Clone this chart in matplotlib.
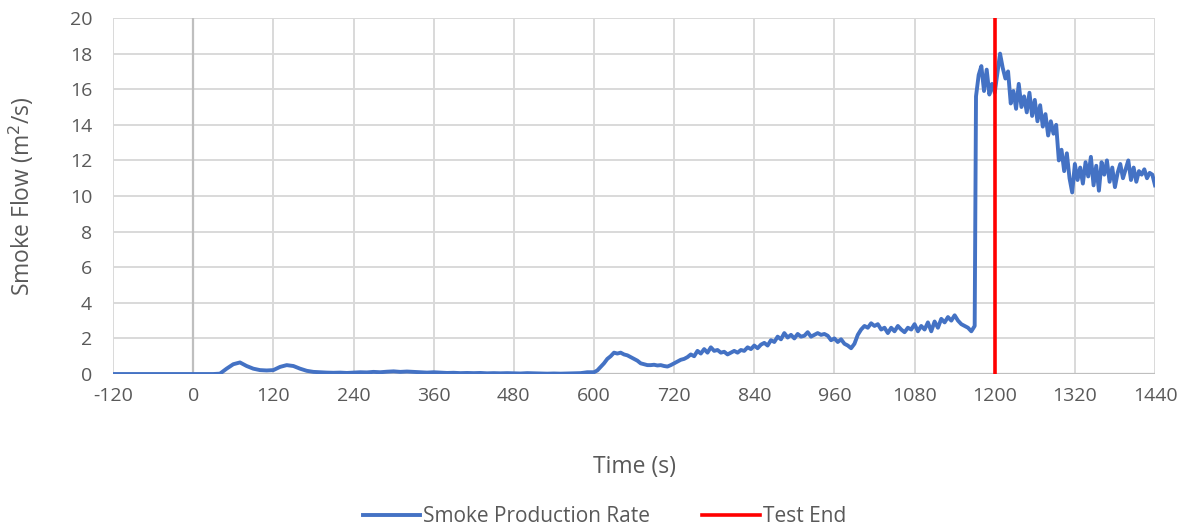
import numpy as np
import matplotlib.pyplot as plt

# Smoke production rate readings, split into segments (start time, step, values)
pre_start, pre_step = -120, 10
pre_rate = [0, 0, 0, 0, 0, 0, 0, 0, 0, 0, 0, 0, 0, 0, 0, 0,
            0.02, 0.3, 0.55, 0.65, 0.45, 0.3, 0.22, 0.2, 0.22, 0.4,
            0.5, 0.45, 0.3, 0.18, 0.12, 0.1, 0.08, 0.07, 0.08, 0.06,
            0.08, 0.1, 0.09, 0.12, 0.1, 0.13, 0.15, 0.12, 0.14, 0.12,
            0.1, 0.08, 0.1, 0.08, 0.06, 0.07, 0.05, 0.06, 0.05, 0.06,
            0.04, 0.05, 0.04, 0.05, 0.04, 0.03, 0.05, 0.04, 0.03, 0.02,
            0.03, 0.02, 0.03, 0.04, 0.05, 0.1]

mid_start, mid_step = 600, 5
mid_rate = [0.1, 0.2, 0.4, 0.6, 0.85, 1.0, 1.2, 1.15, 1.2, 1.1,
            1.05, 0.95, 0.85, 0.75, 0.6, 0.55, 0.5, 0.5, 0.52, 0.48,
            0.5, 0.45, 0.42, 0.5, 0.6, 0.7, 0.8, 0.85, 0.95, 1.1,
            1.0, 1.3, 1.15, 1.4, 1.2, 1.5, 1.3, 1.35, 1.2, 1.25,
            1.1, 1.2, 1.3, 1.2, 1.35, 1.3, 1.5, 1.4, 1.6, 1.45,
            1.65, 1.75, 1.6, 1.9, 1.8, 2.1, 1.95, 2.3, 2.05, 2.2,
            2.0, 2.25, 2.1, 2.15, 2.35, 2.1, 2.2, 2.3, 2.2, 2.25,
            2.15, 1.9, 2.0, 1.8, 1.95, 1.7, 1.6, 1.45, 1.7, 2.2,
            2.5, 2.7, 2.6, 2.85, 2.7, 2.8, 2.5, 2.6, 2.3, 2.6,
            2.4, 2.7, 2.5, 2.35, 2.6, 2.5, 2.8, 2.4, 2.7, 2.5,
            2.9, 2.4, 2.95, 2.6, 3.1, 2.9, 3.2, 3.0, 3.3, 3.0,
            2.8, 2.7, 2.6, 2.4, 2.7]

post_start, post_step = 1172, 4
post_rate = [15.6, 16.8, 17.3, 15.9, 17.1, 15.7, 16.3, 15.8, 16.9, 18.0,
             17.2, 16.6, 17.0, 15.2, 15.9, 14.9, 16.3, 15.0, 15.6, 14.7,
             15.8, 14.5, 15.4, 14.2, 15.1, 13.9, 14.6, 13.4, 14.2, 13.5,
             14.0, 12.0, 12.6, 11.4, 12.4, 11.0, 10.2, 11.8, 10.9, 11.6,
             10.7, 11.9, 11.1, 12.2, 10.6, 11.7, 10.3, 11.9, 11.2, 12.0,
             10.8, 11.6, 10.5, 11.3, 11.8, 11.0, 11.5, 12.0, 10.9, 11.6,
             10.8, 11.4, 11.2, 11.5, 11.0, 11.3, 11.2, 10.6]

test_end = 1200
x_ticks = list(range(-120, 1441, 120))
y_ticks = list(range(0, 21, 2))


def segment_times(start, step, values):
    return start + step * np.arange(len(values))


time = np.concatenate([segment_times(pre_start, pre_step, pre_rate),
                       segment_times(mid_start, mid_step, mid_rate),
                       segment_times(post_start, post_step, post_rate)])
rate = np.concatenate([pre_rate, mid_rate, post_rate])

plt.rcParams['font.family'] = ['Open Sans', 'DejaVu Sans']
plt.rcParams['axes.unicode_minus'] = False
text_color = '#595959'

fig = plt.figure(figsize=(11.9, 5.3), dpi=100)
ax = fig.add_axes([0.095, 0.2943, 0.8756, 0.6717])

ax.plot(time, rate, color='#4472C4', lw=2.8, label='Smoke Production Rate', zorder=3)
ax.plot([test_end, test_end], [0, 20], color='#FF0000', lw=2.6, label='Test End', zorder=4)

ax.axvline(0, color='#bfbfbf', lw=1.6, zorder=2)
ax.axhline(0, color='#bfbfbf', lw=1.6, zorder=2)

ax.set_xlim(-120, 1440)
ax.set_ylim(0, 20)
ax.set_xticks(x_ticks)
ax.set_yticks(y_ticks)
ax.grid(True, color='#d9d9d9', lw=1.4, zorder=1)
ax.set_axisbelow(True)
for s in ax.spines.values():
    s.set_visible(False)
ax.tick_params(length=0, labelsize=14, labelcolor=text_color)
ax.tick_params(axis='x', pad=9)
ax.tick_params(axis='y', pad=15)

ax.set_xlabel('Time (s)', fontsize=16.5, color=text_color)
ax.set_ylabel('Smoke Flow (m$^2$/s)', fontsize=16.5, color=text_color)
ax.xaxis.set_label_coords(0.5, -0.228)
ax.yaxis.set_label_coords(-0.074, 0.5)

fig.legend(loc='center', bbox_to_anchor=(0.508, 0.025), ncol=2, frameon=False,
           fontsize=15, labelcolor=text_color, handlelength=2.75, handletextpad=0.15,
           columnspacing=2.5)

fig.savefig('out.png', dpi=100)
